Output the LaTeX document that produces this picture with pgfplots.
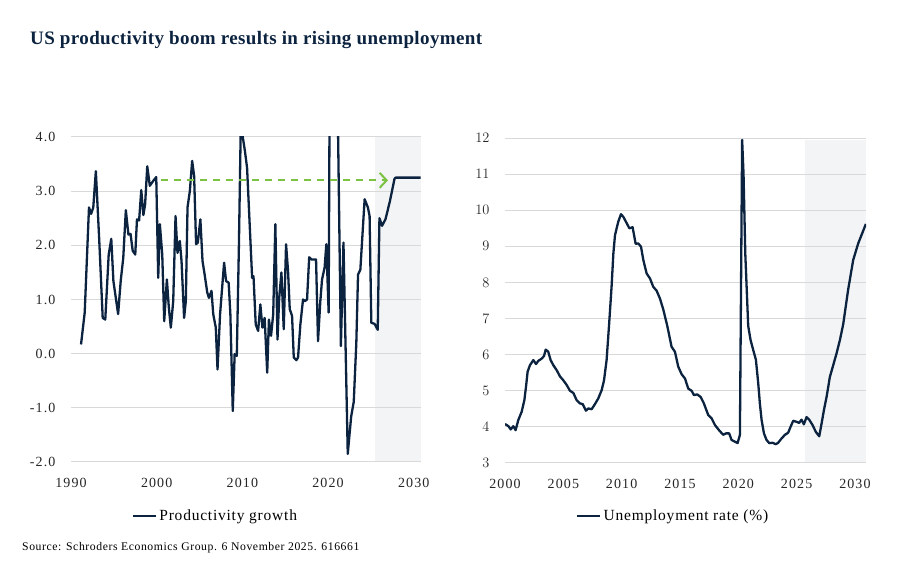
\documentclass[border=0pt]{standalone}
\usepackage{pgfplots}
\pgfplotsset{compat=1.18}
\usepackage{fontspec}
\setmainfont{Liberation Serif}
\newfontfamily\tickfont{Liberation Serif}[LetterSpace=8]
\newfontfamily\legfont{Liberation Serif}[LetterSpace=5]
\newfontfamily\titlefont{Liberation Serif}[LetterSpace=2]
\usetikzlibrary{arrows.meta}

\definecolor{navy}{HTML}{0C2340}
\definecolor{gridgray}{HTML}{D9D9D9}
\definecolor{shadegray}{HTML}{F3F4F6}
\definecolor{arrowgreen}{HTML}{7CC242}

\pgfplotsset{
  panel/.style={
    scale only axis, height=325pt,
    axis line style={draw=none},
    major tick length=0pt,
    ymajorgrids, grid style={gridgray, line width=1pt},
    tick label style={font=\tickfont\fontsize{14}{16}\selectfont, text=black!85},
    xticklabel style={yshift=-13pt},
    yticklabel style={xshift=-12pt},
    set layers,
    legend style={draw=none, fill=none, inner sep=0pt,
      font=\legfont\fontsize{15.5}{17}\selectfont,
      /tikz/every node/.append style={inner xsep=2pt}},
    legend cell align=left,
    legend image code/.code={\draw[#1] (0pt,0pt) -- (23pt,0pt);},
  }
}

\begin{document}
\begin{tikzpicture}[x=1pt,y=1pt]
\path (0,0) rectangle (900,580);

\node[anchor=base west, inner sep=0pt, text=navy, font=\titlefont\fontsize{19}{21}\selectfont\bfseries]
  at (30,535) {US productivity boom results in rising unemployment};

% left panel: productivity growth
\begin{axis}[panel,
  at={(71pt,118pt)}, anchor=south west, width=350pt,
  xmin=1990, xmax=2030.85, ymin=-2, ymax=4,
  xtick={1990,2000,2010,2020,2030},
  xticklabels={1990,2000,2010,2020,2030},
  ytick={-2,-1,0,1,2,3,4},
  yticklabels={-2.0,-1.0,0.0,1.0,2.0,3.0,4.0},
  legend style={at={(0.174,-0.166)}, anchor=west},
]
\addplot[fill=shadegray, draw=none, forget plot, on layer=axis background]
  coordinates {(2025.43,-2) (2025.43,4) (2030.85,4) (2030.85,-2)} -- cycle;

\addplot[navy, line width=2.3pt, line join=round] coordinates {
(1991.17,0.17) (1991.6,0.76) (1992.1,2.7) (1992.35,2.58) (1992.6,2.7)
(1992.9,3.37) (1993.3,2.08) (1993.7,0.66) (1994.0,0.63) (1994.4,1.83)
(1994.7,2.12) (1994.95,1.34) (1995.5,0.73) (1995.8,1.34) (1996.1,1.77)
(1996.4,2.65) (1996.7,2.2) (1996.95,2.21) (1997.2,1.9) (1997.5,1.83)
(1997.7,2.48) (1997.95,2.46) (1998.2,3.02) (1998.45,2.56) (1998.65,2.76)
(1998.9,3.46) (1999.2,3.1) (1999.6,3.19) (1999.95,3.26) (2000.18,1.4)
(2000.37,2.39) (2000.65,1.83) (2000.88,0.6) (2001.19,1.37) (2001.42,0.85)
(2001.65,0.48) (2001.93,0.97) (2002.2,2.54) (2002.43,1.86) (2002.7,2.08)
(2002.9,1.71) (2003.2,0.66) (2003.4,0.97) (2003.6,2.7) (2003.87,3.0)
(2004.14,3.56) (2004.37,3.28) (2004.6,2.02) (2004.8,2.05) (2005.1,2.48)
(2005.35,1.71) (2005.6,1.46) (2005.9,1.13) (2006.1,1.03) (2006.4,1.16)
(2006.6,0.73) (2006.9,0.48) (2007.1,-0.29) (2007.4,0.73) (2007.7,1.34)
(2007.87,1.68) (2008.1,1.34) (2008.4,1.31) (2008.6,0.73) (2008.88,-1.06)
(2009.1,-0.01) (2009.35,-0.04) (2009.6,2.02) (2009.8,4.05) (2010.0,4.05)
(2010.3,3.74) (2010.55,3.43) (2010.87,2.33) (2011.14,1.4) (2011.3,1.43)
(2011.56,0.54) (2011.84,0.42) (2012.1,0.91) (2012.34,0.48) (2012.6,0.66)
(2012.9,-0.35) (2013.1,0.63) (2013.35,0.33) (2013.6,0.73) (2013.85,2.39)
(2014.1,0.26) (2014.3,1.03) (2014.56,1.5) (2014.83,0.45) (2015.1,2.02)
(2015.33,1.53) (2015.53,0.82) (2015.8,0.70) (2016.0,-0.07) (2016.3,-0.12)
(2016.5,-0.07) (2016.77,0.54) (2017.08,1.0) (2017.3,0.97) (2017.55,1.0)
(2017.8,1.78) (2018.05,1.74) (2018.3,1.74) (2018.6,1.74) (2018.83,0.23)
(2019.1,0.97) (2019.3,1.37) (2019.6,1.59) (2019.8,2.02) (2020.07,0.76)
(2020.35,10.5) (2020.6,8.0) (2020.85,6.5) (2021.05,5.5) (2021.5,0.14)
(2021.8,2.05) (2022.3,-1.85) (2022.7,-1.16) (2023.0,-0.89) (2023.3,0.2)
(2023.5,1.46) (2023.77,1.55) (2024.27,2.85) (2024.65,2.70) (2024.85,2.54)
(2025.05,0.57) (2025.43,0.55) (2025.8,0.44) (2026.0,2.5) (2026.3,2.36)
(2026.7,2.48) (2027.2,2.8) (2027.76,3.23) (2027.9,3.25) (2030.8,3.25)
};
\addlegendentry{Productivity growth}

\draw[arrowgreen, line width=2pt, dash pattern=on 7pt off 6pt,
  -{Straight Barb[length=7pt, width=15pt, line width=2pt]}]
  (axis cs:2000.5,3.2) -- (axis cs:2027,3.2);
\end{axis}

% right panel: unemployment rate
\begin{axis}[panel,
  at={(505pt,117pt)}, anchor=south west, width=361pt,
  xmin=2000, xmax=2030.95, ymin=3, ymax=12,
  xtick={2000,2005,2010,2015,2020,2025,2030},
  xticklabels={2000,2005,2010,2015,2020,2025,2030},
  ytick={3,4,5,6,7,8,9,10,11,12},
  legend style={at={(0.197,-0.163)}, anchor=west},
]
\addplot[fill=shadegray, draw=none, forget plot, on layer=axis background]
  coordinates {(2025.7,3) (2025.7,11.95) (2030.95,11.95) (2030.95,3)} -- cycle;

\addplot[navy, line width=2.3pt, line join=round] coordinates {
(2000.0,4.08) (2000.29,4.02) (2000.49,3.93) (2000.71,4.02) (2000.91,3.91)
(2001.14,4.19) (2001.43,4.42) (2001.66,4.74) (2001.8,5.11) (2001.94,5.53)
(2002.14,5.71) (2002.43,5.85) (2002.66,5.74) (2002.86,5.83) (2003.14,5.89)
(2003.34,5.96) (2003.49,6.14) (2003.71,6.08) (2003.91,5.85) (2004.14,5.71)
(2004.43,5.57) (2004.71,5.40) (2005.0,5.29) (2005.29,5.16) (2005.57,5.0)
(2005.86,4.94) (2006.14,4.74) (2006.43,4.65) (2006.66,4.63) (2006.94,4.45)
(2007.14,4.51) (2007.43,4.49) (2007.71,4.63) (2008.0,4.79) (2008.29,5.02)
(2008.49,5.29) (2008.71,5.85) (2008.91,6.77) (2009.06,7.5) (2009.14,7.9)
(2009.29,8.8) (2009.43,9.31) (2009.71,9.68) (2009.94,9.89) (2010.14,9.82)
(2010.37,9.68) (2010.66,9.5) (2010.94,9.53) (2011.2,9.07) (2011.43,9.08)
(2011.66,8.99) (2011.86,8.62) (2012.14,8.25) (2012.43,8.11) (2012.71,7.88)
(2013.0,7.77) (2013.29,7.55) (2013.57,7.25) (2013.91,6.8) (2014.28,6.22)
(2014.57,6.08) (2014.85,5.67) (2015.14,5.46) (2015.43,5.34) (2015.71,5.06)
(2016.0,5.0) (2016.2,4.88) (2016.48,4.9) (2016.77,4.83) (2017.05,4.65)
(2017.42,4.33) (2017.71,4.24) (2018.0,4.05) (2018.37,3.9) (2018.71,3.78)
(2018.94,3.82) (2019.22,3.82) (2019.42,3.64) (2019.71,3.59) (2019.94,3.55)
(2020.14,3.78) (2020.33,11.95) (2020.45,11.0) (2020.6,8.8) (2020.85,6.8)
(2021.05,6.41) (2021.28,6.13) (2021.51,5.86) (2021.71,5.21) (2021.85,4.65)
(2022.0,4.19) (2022.2,3.82) (2022.42,3.64) (2022.65,3.55) (2022.94,3.56)
(2023.22,3.52) (2023.42,3.56) (2023.71,3.68) (2024.0,3.78) (2024.28,3.84)
(2024.48,4.0) (2024.71,4.17) (2025.0,4.14) (2025.22,4.11) (2025.42,4.20)
(2025.62,4.07) (2025.85,4.27) (2026.08,4.2) (2026.37,4.05) (2026.65,3.86)
(2026.94,3.74) (2027.14,4.09) (2027.34,4.46) (2027.57,4.83) (2027.85,5.38)
(2028.14,5.71) (2028.42,6.03) (2028.71,6.4) (2029.0,6.85) (2029.42,7.8)
(2029.85,8.62) (2030.28,9.08) (2030.94,9.62)
};
\addlegendentry{Unemployment rate (\%)}
\end{axis}

\node[anchor=west, inner sep=0pt, font=\legfont\fontsize{11.7}{14}\selectfont] at (22,32)
  {Source: Schroders Economics Group. 6 November 2025. 616661};
\end{tikzpicture}
\end{document}
